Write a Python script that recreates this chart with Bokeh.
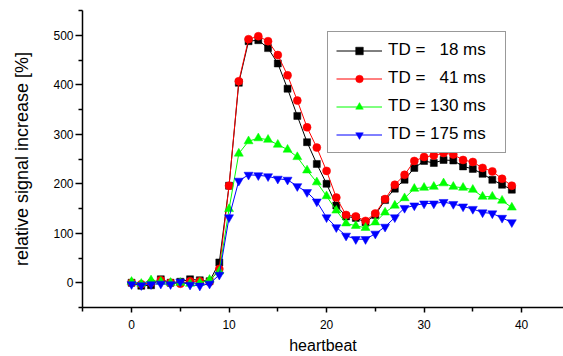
from bokeh.plotting import figure
from bokeh.models import Legend, LegendItem, Range1d, FixedTicker
from bokeh.embed import file_html
from bokeh.resources import INLINE

heartbeat = list(range(40))
td18 = [0, -6, -5, 7, 0, 2, 7, 5, 3, 41, 196, 404, 488, 490, 474, 443, 392, 337, 284, 240,
        200, 156, 134, 131, 122, 137, 167, 190, 208, 232, 246, 242, 248, 247, 235, 230, 220, 208, 198, 188]
td41 = [0, -3, 0, 5, 0, -2, 3, 3, 2, 28, 196, 407, 492, 498, 488, 460, 419, 368, 314, 273,
        226, 172, 137, 134, 125, 140, 169, 198, 218, 246, 254, 257, 262, 259, 248, 244, 232, 225, 210, 196]
td130 = [2, -2, 5, 2, 0, 0, -2, 0, 6, 23, 149, 261, 286, 292, 289, 279, 269, 254, 227, 203,
         175, 146, 120, 115, 111, 122, 142, 156, 171, 190, 192, 194, 201, 194, 192, 188, 174, 174, 166, 152]
td175 = [-3, -5, -3, -2, -3, 2, -4, -6, -2, 16, 132, 206, 218, 217, 215, 210, 208, 195, 183, 164,
         132, 112, 95, 88, 88, 99, 113, 132, 151, 156, 160, 160, 163, 159, 154, 149, 142, 140, 131, 122]
labels = ["TD =   18 ms", "TD =   41 ms", "TD = 130 ms", "TD = 175 ms"]
colors = ["#000000", "#ff0000", "#00ff00", "#0000ff"]
markers = ["square", "circle", "triangle", "inverted_triangle"]
sizes = [7, 8, 9, 9]
x_ticks = [0, 10, 20, 30, 40]
y_ticks = [0, 100, 200, 300, 400, 500]

FONT = "Liberation Sans"

p = figure(width=563, height=356, output_backend="svg", toolbar_location=None,
           x_range=Range1d(-5.03, 44.3), y_range=Range1d(-50, 550),
           min_border_left=82, min_border_right=0, min_border_top=10, min_border_bottom=0)
p.grid.visible = False
p.outline_line_color = None
p.background_fill_color = "white"
p.border_fill_color = "white"

items = []
for ys, lab, c, m, s in zip([td18, td41, td130, td175], labels, colors, markers, sizes):
    r1 = p.line(heartbeat, ys, line_color=c, line_width=1)
    r2 = p.scatter(heartbeat, ys, marker=m, size=s, fill_color=c, line_color=c, line_width=0.5)
    items.append(LegendItem(label=lab, renderers=[r1, r2]))

legend = Legend(items=items, location=(245, 154), glyph_width=46, glyph_height=19,
                label_height=19, spacing=8, padding=8, label_standoff=6, label_width=109,
                margin=0, border_line_color="#333333", border_line_width=1,
                background_fill_alpha=1.0, label_text_font=FONT, label_text_font_size="17px",
                label_text_color="black")
p.add_layout(legend, "center")

for ax in (p.xaxis[0], p.yaxis[0]):
    ax.axis_line_width = 1.5
    ax.axis_line_color = "black"
    ax.major_tick_line_width = 1.5
    ax.minor_tick_line_width = 1.5
    ax.major_tick_line_color = "black"
    ax.minor_tick_line_color = "black"
    ax.major_tick_in = 0
    ax.minor_tick_in = 0
    ax.major_label_text_font = FONT
    ax.major_label_text_font_size = "12px"
    ax.major_label_text_color = "black"
    ax.axis_label_text_font = FONT
    ax.axis_label_text_font_style = "normal"
    ax.axis_label_text_color = "black"

p.xaxis.ticker = FixedTicker(ticks=x_ticks, minor_ticks=[-5, 5, 15, 25, 35])
p.yaxis.ticker = FixedTicker(ticks=y_ticks, minor_ticks=[-50, 50, 150, 250, 350, 450, 550])
p.xaxis.major_tick_out = 5
p.xaxis.minor_tick_out = 4
p.xaxis.major_label_standoff = 7
p.xaxis.axis_label = "heartbeat"
p.xaxis.axis_label_text_font_size = "16px"
p.xaxis.axis_label_standoff = 5
p.yaxis.major_tick_out = 7
p.yaxis.minor_tick_out = 4
p.yaxis.major_label_standoff = 2
p.yaxis.axis_label = "relative signal increase [%]"
p.yaxis.axis_label_text_font_size = "18px"
p.yaxis.axis_label_standoff = 18

open("out.html", "w").write(file_html(p, INLINE))
